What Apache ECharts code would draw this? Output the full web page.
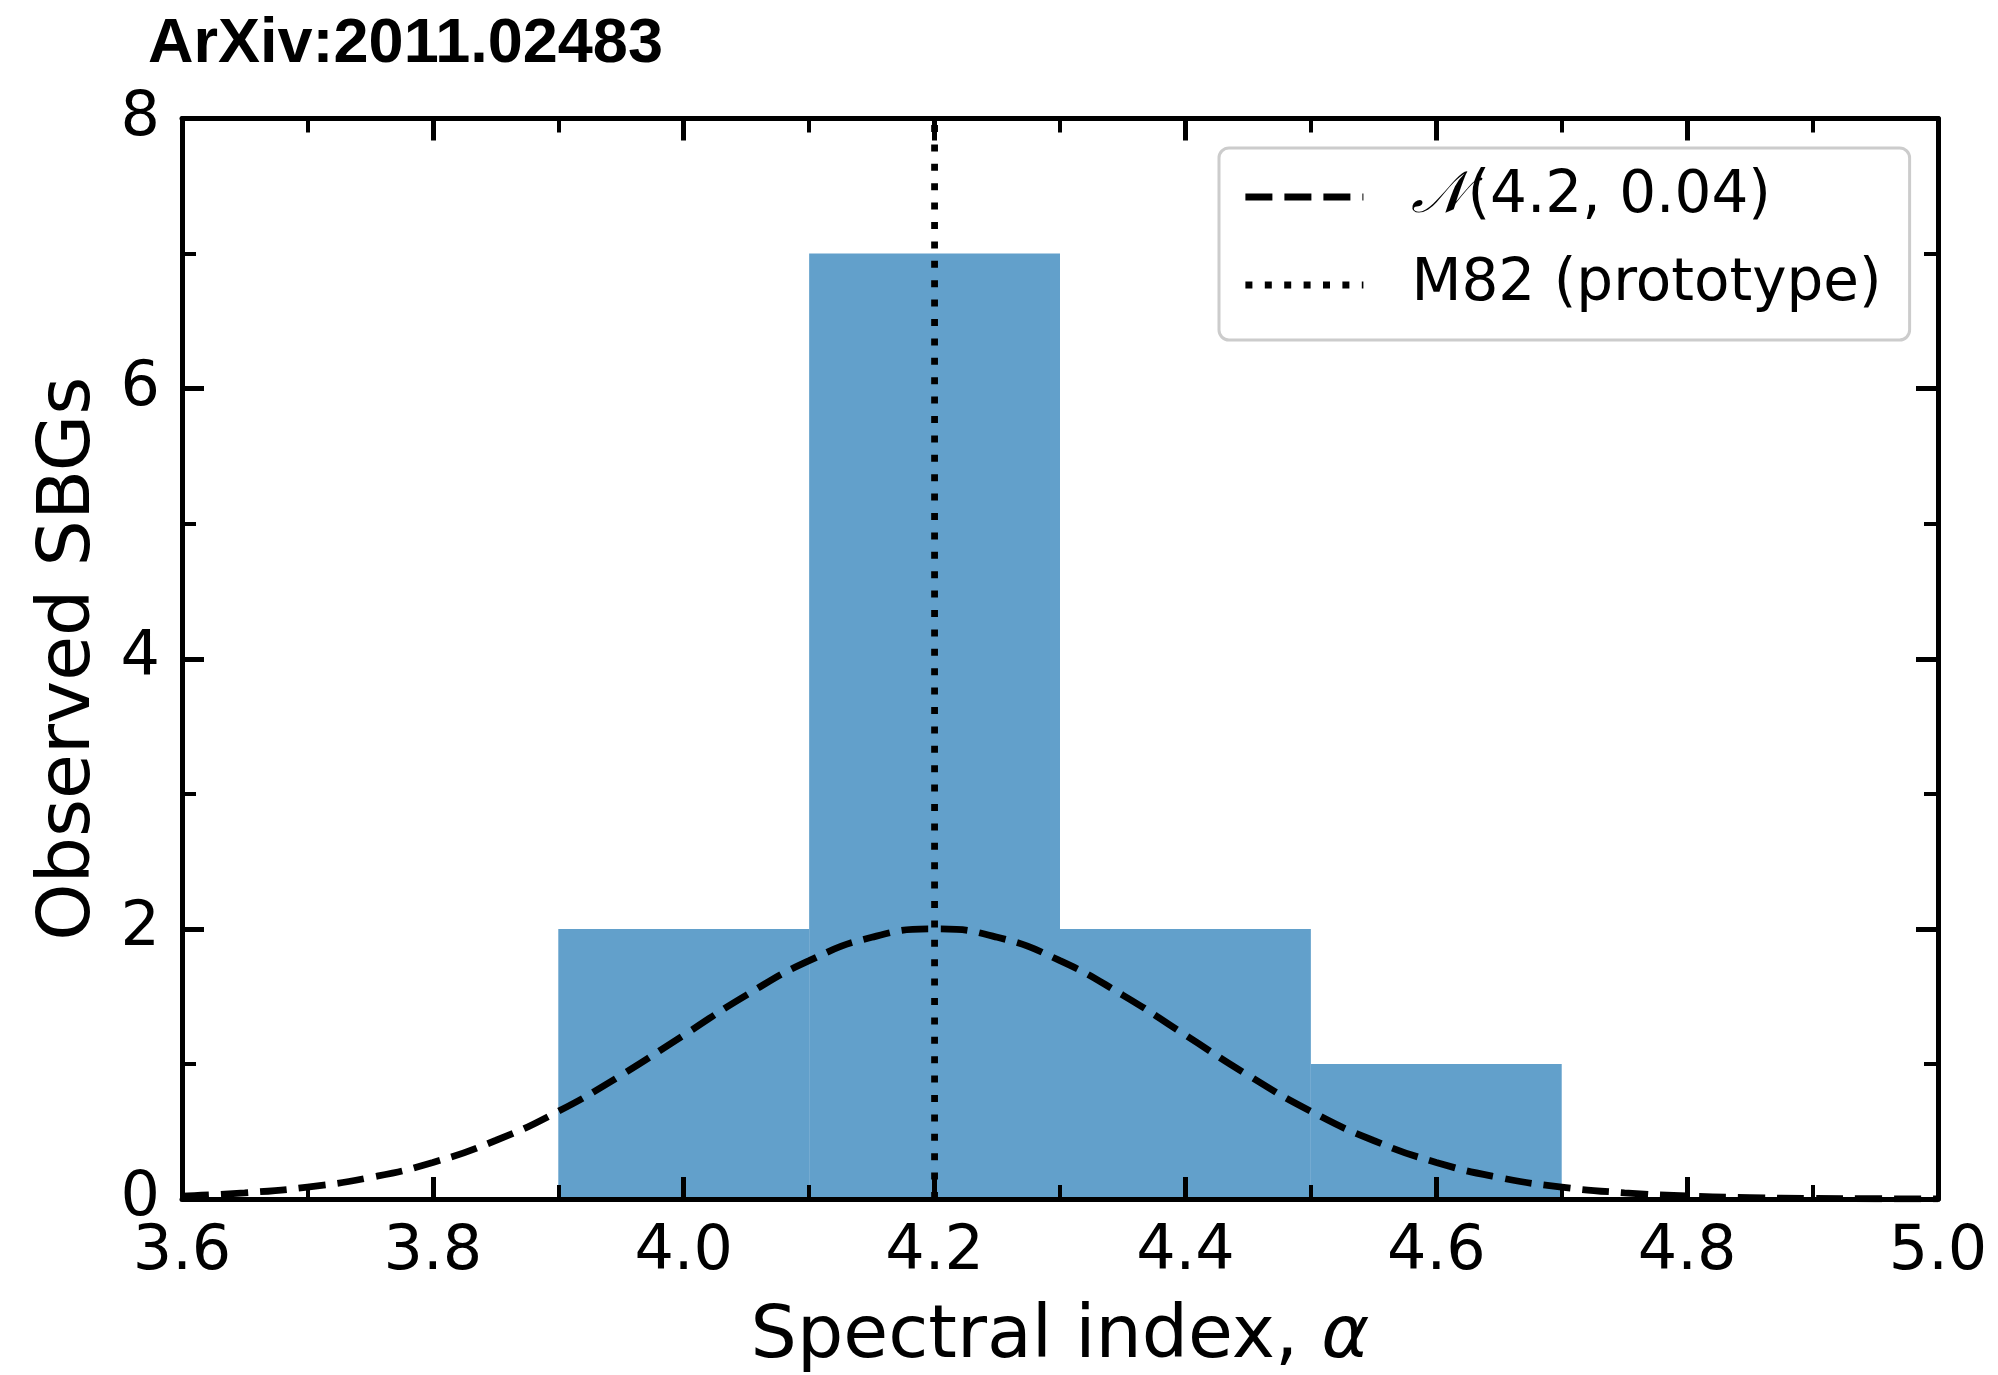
<!DOCTYPE html>
<html>
<head>
<meta charset="utf-8">
<script src="https://cdn.jsdelivr.net/npm/echarts@6/dist/echarts.min.js"></script>
<style>
html,body{margin:0;padding:0;background:#fff;}
#c{width:1998px;height:1375px;}
</style>
</head>
<body>
<div id="c"></div>
<script>
// Histogram bins: [left edge, right edge, count]
const binLeft = [3.9, 4.1, 4.3, 4.5];
const binRight = [4.1, 4.3, 4.5, 4.7];
const binCount = [2, 7, 2, 1];

// Normal curve
const curveX = [3.60,3.65,3.70,3.75,3.80,3.85,3.90,3.95,4.00,4.05,4.10,4.15,4.20,4.25,4.30,4.35,4.40,4.45,4.50,4.55,4.60,4.65,4.70,4.75,4.80,4.85,4.90,4.95,5.00];
const curveY = [0.022,0.046,0.088,0.159,0.271,0.433,0.649,0.916,1.213,1.510,1.765,1.938,2.000,1.938,1.765,1.510,1.213,0.916,0.649,0.433,0.271,0.159,0.088,0.046,0.022,0.010,0.004,0.002,0.001];

// Prototype marker
const protoX = 4.2;
const protoY = [0, 8];

const xTicks = { min: 3.6, max: 5.0, interval: 0.2 };
const yTicks = { min: 0, max: 8, interval: 2 };

const chart = echarts.init(document.getElementById('c'), null, { renderer: 'canvas' });

const axisCommon = {
  z: 10,
  axisLine: { show: true, onZero: false, lineStyle: { color: '#000', width: 5 } },
  axisTick: { show: true, inside: true, length: 22, lineStyle: { color: '#000', width: 5 } },
  minorTick: { show: true, splitNumber: 2, length: 14, lineStyle: { color: '#000', width: 4 } },
  splitLine: { show: false },
  minorSplitLine: { show: false }
};

const font = "'DejaVu Sans', sans-serif";
const dashedStyle = { color: '#000', width: 6.8, type: [27, 12] };
const dottedStyle = { color: '#000', width: 6.8, type: [7, 12.4] };
const hiddenSymbol = { color: 'rgba(0,0,0,0)', borderWidth: 0, opacity: 0 };

const option = {
  animation: false,
  backgroundColor: '#fff',
  title: {
    text: 'ArXiv:2011.02483',
    left: 148,
    top: 13,
    padding: 0,
    textStyle: { fontFamily: "'Liberation Sans', Arial, sans-serif", fontWeight: 'bold', fontSize: 63, lineHeight: 63, color: '#000' }
  },
  grid: { left: 182, right: 60, top: 118.5, bottom: 176, containLabel: false, outerBoundsMode: 'none' },
  legend: {
    data: [
      { name: 'normal', itemStyle: hiddenSymbol, lineStyle: dashedStyle },
      { name: 'proto', itemStyle: hiddenSymbol, lineStyle: dottedStyle }
    ],
    orient: 'vertical',
    left: 1219,
    top: 148,
    padding: [19, 28, 25, 23],
    itemWidth: 118,
    itemHeight: 14,
    itemGap: 28,
    backgroundColor: 'rgba(255,255,255,0.8)',
    borderColor: '#cccccc',
    borderWidth: 3,
    borderRadius: 10,
    formatter: function (n) {
      return n === 'normal' ? '{n|𝒩}(4.2, 0.04)' : 'M82 (prototype)';
    },
    textStyle: {
      fontFamily: font, fontSize: 58, lineHeight: 60, color: '#000',
      padding: [0, 0, 0, 43],
      rich: {
        n: { fontFamily: "'DejaVu Serif', 'DejaVu Sans', serif", fontStyle: 'italic', fontSize: 58, lineHeight: 60 }
      }
    }
  },
  xAxis: [
    Object.assign({}, axisCommon, {
      type: 'value', position: 'bottom',
      min: xTicks.min, max: xTicks.max, interval: xTicks.interval,
      name: 'Spectral index, {i|α}',
      nameLocation: 'middle', nameGap: 103,
      nameTextStyle: { fontFamily: font, fontSize: 73, color: '#000',
        rich: { i: { fontFamily: font, fontStyle: 'italic', fontSize: 73 } } },
      axisLabel: { show: true, margin: 23, fontFamily: font, fontSize: 62, color: '#000',
        formatter: v => v.toFixed(1) }
    }),
    Object.assign({}, axisCommon, {
      type: 'value', position: 'top',
      min: xTicks.min, max: xTicks.max, interval: xTicks.interval,
      axisLabel: { show: false }
    })
  ],
  yAxis: [
    Object.assign({}, axisCommon, {
      type: 'value', position: 'left',
      min: yTicks.min, max: yTicks.max, interval: yTicks.interval,
      name: 'Observed SBGs',
      nameLocation: 'middle', nameGap: 75,
      nameTextStyle: { fontFamily: font, fontSize: 73, color: '#000' },
      axisLabel: { show: true, margin: 22, fontFamily: font, fontSize: 62, color: '#000' }
    }),
    Object.assign({}, axisCommon, {
      type: 'value', position: 'right',
      min: yTicks.min, max: yTicks.max, interval: yTicks.interval,
      axisLabel: { show: false }
    })
  ],
  series: [
    {
      type: 'custom',
      name: 'hist',
      xAxisIndex: 0, yAxisIndex: 0,
      z: 1,
      data: binLeft.map((l, i) => [l, binRight[i], binCount[i]]),
      encode: { x: [0, 1], y: 2 },
      renderItem: function (params, api) {
        const p0 = api.coord([api.value(0), api.value(2)]);
        const p1 = api.coord([api.value(1), 0]);
        return {
          type: 'rect',
          shape: { x: p0[0], y: p0[1], width: p1[0] - p0[0], height: p1[1] - p0[1] },
          style: { fill: '#62a0cb', stroke: null }
        };
      }
    },
    {
      type: 'line',
      name: 'normal',
      xAxisIndex: 0, yAxisIndex: 0,
      z: 5,
      smooth: true,
      symbol: 'none',
      data: curveX.map((x, i) => [x, curveY[i]]),
      lineStyle: dashedStyle,
      itemStyle: { color: '#000' }
    },
    {
      type: 'line',
      name: 'proto',
      xAxisIndex: 0, yAxisIndex: 0,
      z: 6,
      symbol: 'none',
      data: protoY.map(y => [protoX, y]),
      lineStyle: dottedStyle,
      itemStyle: { color: '#000' }
    }
  ]
};

chart.setOption(option);
</script>
</body>
</html>
